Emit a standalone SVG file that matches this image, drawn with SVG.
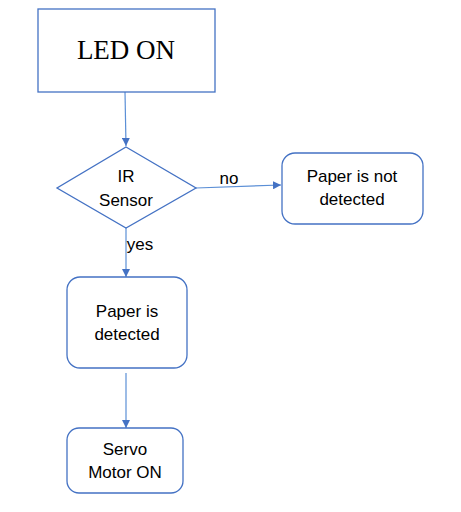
<svg xmlns="http://www.w3.org/2000/svg" width="461" height="512" viewBox="0 0 461 512">
<style>
.box{fill:#fff;stroke:#4472C4;stroke-width:1.3}
.t{font-family:"Liberation Sans",Arial,sans-serif;font-size:17px;fill:#000;text-anchor:middle}
.c{stroke:#5B8FD6;stroke-width:1.2;fill:none;marker-end:url(#ah)}
</style>
<defs>
<marker id="ah" viewBox="0 0 10 10" refX="10" refY="5" markerWidth="8" markerHeight="8" markerUnits="userSpaceOnUse" orient="auto">
<path d="M0,0 L10,5 L0,10 z" fill="#4472C4"/>
</marker>
</defs>
<rect width="461" height="512" fill="#fff"/>
<g id="connectors">
<line class="c" x1="125" y1="92" x2="126" y2="146"/>
<line class="c" x1="196" y1="188" x2="281" y2="185"/>
<line class="c" x1="126" y1="228" x2="126" y2="277"/>
<line class="c" x1="126" y1="373" x2="126" y2="428"/>
<text class="t" x="229" y="184">no</text>
<text class="t" x="140" y="250">yes</text>
</g>
<g id="led">
<rect class="box" x="38" y="9" width="177" height="83"/>
<text x="126" y="59" font-family="'Liberation Serif','Times New Roman',serif" font-size="27" text-anchor="middle">LED ON</text>
</g>
<g id="ir">
<polygon class="box" points="126,147 196,188 126,228 57,188"/>
<text class="t" x="126" y="182">IR</text>
<text class="t" x="126" y="206">Sensor</text>
</g>
<g id="notdetected">
<rect class="box" x="282" y="153" width="141" height="71" rx="13"/>
<text class="t" x="352" y="182">Paper is not</text>
<text class="t" x="352" y="205">detected</text>
</g>
<g id="detected">
<rect class="box" x="67" y="277" width="120" height="91" rx="13"/>
<text class="t" x="127" y="317">Paper is</text>
<text class="t" x="127" y="340">detected</text>
</g>
<g id="servo">
<rect class="box" x="67" y="428" width="116" height="65" rx="12"/>
<text class="t" x="125" y="455">Servo</text>
<text class="t" x="125" y="478">Motor ON</text>
</g>
</svg>
